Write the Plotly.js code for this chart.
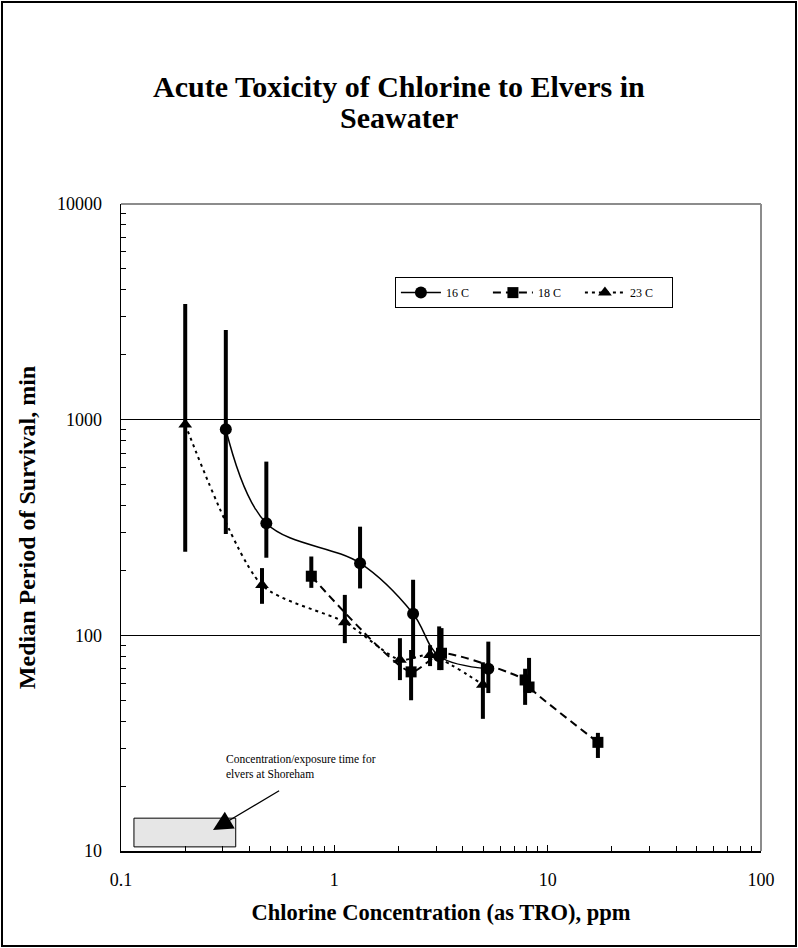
<!DOCTYPE html>
<html><head><meta charset="utf-8">
<script src="https://cdn.plot.ly/plotly-3.0.1.min.js"></script>
<style>
html,body{margin:0;padding:0;background:#fff;}
#wrap{position:relative;width:798px;height:948px;}
#chart{width:798px;height:948px;}
#frame{position:absolute;left:1px;top:1px;width:792px;height:942px;border:2px solid #000;pointer-events:none;}
</style></head>
<body>
<div id="wrap"><div id="chart"></div><div id="frame"></div></div>
<script>
// 16 C series
const conc16 = [0.31, 0.48, 1.32, 2.34, 3.1, 5.27];
const surv16 = [903, 331, 216, 126, 80, 70];
const hi16   = [2606, 639, 319, 181, 110, 93.5];
const lo16   = [295, 229, 165, 78, 69, 54];
// 18 C series
const conc18 = [0.78, 2.29, 3.18, 7.84, 8.18, 17.2];
const surv18 = [188, 67.7, 82.6, 62.1, 57.6, 31.9];
const hi18   = [232, 85.5, 108, 70, 78.6, 35.3];
const lo18   = [166, 50, 69, 47.6, 54, 27];
// 23 C series
const conc23 = [0.2, 0.458, 1.12, 2.03, 2.81, 4.97];
const surv23 = [950, 171, 115, 77, 81, 59];
const hi23   = [3440, 205, 154, 97, 90, 75];
const lo23   = [244, 140, 92, 62, 72, 41];

const seriesNames = ['16 C', '18 C', '23 C'];
const xTickVals = [0.1, 1, 10, 100];
const xTickText = ['0.1', '1', '10', '100'];
const yTickVals = [10, 100, 1000, 10000];
const yTickText = ['10', '100', '1000', '10000'];
const titleLines = ['Acute Toxicity of Chlorine to Elvers in', 'Seawater'];

const FONT = 'Liberation Serif, Times New Roman, serif';

function errs(v, hi, lo) {
  return {
    type: 'data', symmetric: false,
    array: hi.map((h, i) => h - v[i]),
    arrayminus: lo.map((l, i) => v[i] - l),
    color: '#000', thickness: 4, width: 0
  };
}

const traces = [
  {x: conc16, y: surv16, name: seriesNames[0], mode: 'lines+markers', type: 'scatter',
   line: {color: '#000', width: 1.5, shape: 'spline', smoothing: 1},
   marker: {symbol: 'circle', size: 12, color: '#000'},
   error_y: errs(surv16, hi16, lo16)},
  {x: conc18, y: surv18, name: seriesNames[1], mode: 'lines+markers', type: 'scatter',
   line: {color: '#000', width: 2, dash: '8px,5px', shape: 'spline', smoothing: 0.6},
   marker: {symbol: 'square', size: 11, color: '#000'},
   error_y: errs(surv18, hi18, lo18)},
  {x: conc23, y: surv23, name: seriesNames[2], mode: 'lines+markers', type: 'scatter',
   line: {color: '#000', width: 2, dash: '3px,4px', shape: 'spline', smoothing: 0.7},
   marker: {symbol: 'triangle-up', size: 12, color: '#000'},
   error_y: errs(surv23, hi23, lo23)}
];

const titleAnn = titleLines.map((t, i) => ({
  text: '<b>' + t + '</b>', xref: 'paper', yref: 'paper',
  x: (399 - 121) / 640, y: (851 - (86 + 32 * i)) / 647,
  xanchor: 'center', yanchor: 'middle', showarrow: false,
  font: {family: FONT, size: 30, color: '#000'}
}));

const layout = {
  width: 798, height: 948,
  paper_bgcolor: '#fff', plot_bgcolor: '#fff',
  margin: {l: 121, r: 37, t: 204, b: 97, autoexpand: false},
  font: {family: FONT, color: '#000', size: 16},
  showlegend: true,
  legend: {
    orientation: 'h', x: 0.428, y: 0.887, xanchor: 'left', yanchor: 'top',
    bgcolor: '#fff', bordercolor: '#000', borderwidth: 1,
    font: {family: FONT, size: 12, color: '#000'},
    entrywidth: 37, itemwidth: 40, tracegroupgap: 0
  },
  xaxis: {
    type: 'log', range: [-1, 2],
    tickvals: xTickVals, ticktext: xTickText,
    ticks: 'inside', ticklen: 6, tickcolor: '#000', tickwidth: 1,
    minor: {ticks: 'inside', ticklen: 5, tickcolor: '#000', dtick: 'D1', showgrid: false},
    showline: true, linecolor: '#000', linewidth: 1.5, mirror: false,
    showgrid: false, zeroline: false,
    tickfont: {family: FONT, size: 18, color: '#000'},
    ticklabelstandoff: 12,
    title: {text: '<b>Chlorine Concentration (as TRO), ppm</b>', font: {family: FONT, size: 22.5, color: '#000'}, standoff: 15}
  },
  yaxis: {
    type: 'log', range: [1, 4],
    tickvals: yTickVals, ticktext: yTickText,
    ticks: 'inside', ticklen: 6, tickcolor: '#000', tickwidth: 1,
    minor: {ticks: 'inside', ticklen: 5, tickcolor: '#000', dtick: 'D1', showgrid: false},
    showline: true, linecolor: '#000', linewidth: 1.5, mirror: false,
    showgrid: true, gridcolor: '#000', gridwidth: 1, zeroline: false,
    tickfont: {family: FONT, size: 18, color: '#000'},
    ticklabelstandoff: 14,
    title: {text: '<b>Median Period of Survival, min</b>', font: {family: FONT, size: 24, color: '#000'}, standoff: 14}
  },
  shapes: [
    {type: 'rect', xref: 'x', yref: 'y',
     x0: 0.115, x1: 0.345, y0: 10.45, y1: 14.2,
     fillcolor: '#e6e6e6', line: {color: '#000', width: 1}, layer: 'below'},
    {type: 'line', xref: 'paper', yref: 'paper', x0: 0, x1: 1, y0: 1, y1: 1,
     line: {color: '#8c8c8c', width: 2}, layer: 'above'},
    {type: 'line', xref: 'paper', yref: 'paper', x0: 1, x1: 1, y0: 0, y1: 1,
     line: {color: '#8c8c8c', width: 2}, layer: 'above'}
  ],
  annotations: titleAnn.concat([
    {text: 'Concentration/exposure time for<br>elvers at Shoreham',
     xref: 'paper', yref: 'paper', x: (224 - 121) / 640, y: (851 - 751) / 647,
     xanchor: 'left', yanchor: 'top', align: 'left', showarrow: false,
     font: {family: FONT, size: 11.5, color: '#000'}},
    {text: '', xref: 'x', yref: 'y', axref: 'x', ayref: 'y',
     x: Math.log10(0.27), y: Math.log10(12.5),
     ax: Math.log10(0.56), ay: Math.log10(19.2),
     showarrow: true, arrowhead: 2, arrowsize: 3, arrowwidth: 1.3, arrowcolor: '#000'}
  ])
};

Plotly.newPlot('chart', traces, layout, {displayModeBar: false, staticPlot: true});
</script>
</body></html>
